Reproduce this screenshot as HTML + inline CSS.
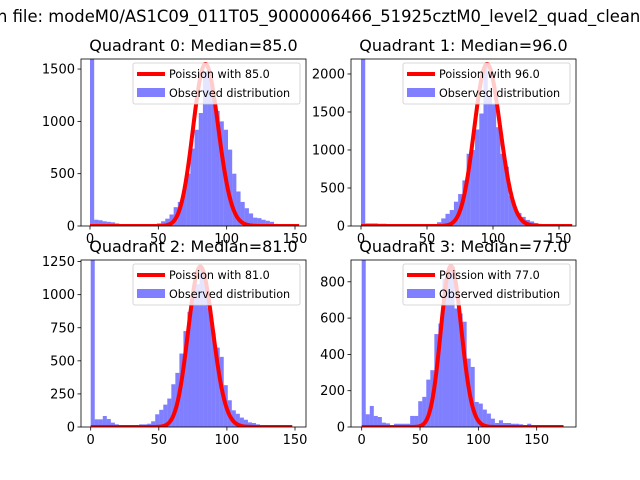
<!DOCTYPE html>
<html><head><meta charset="utf-8"><style>
html,body{margin:0;padding:0;background:#fff;}
svg{display:block;font-family:"DejaVu Sans","Liberation Sans",sans-serif;}
</style></head><body>
<svg id="fig" width="640" height="480" viewBox="0 0 640 480" xmlns="http://www.w3.org/2000/svg">
<rect width="640" height="480" fill="#fff"/>
<text x="-3" y="22" font-size="16.4" fill="#000">n file: modeM0/AS1C09_011T05_9000006466_51925cztM0_level2_quad_clean.evt</text>
</svg>
<script>
const titles = ["Quadrant 0: Median=85.0","Quadrant 1: Median=96.0","Quadrant 2: Median=81.0","Quadrant 3: Median=77.0"];
const lambdas = [85, 96, 81, 77];
const curvePeaks = [1548, 2131, 1212, 887];
const dataMax = [153, 160, 148, 173];
const yMaxes = [1596, 2197, 1262, 920];
const yTicks0 = [0, 500, 1000, 1500];
const yTicks1 = [0, 500, 1000, 1500, 2000];
const yTicks2 = [0, 250, 500, 750, 1000, 1250];
const yTicks3 = [0, 200, 400, 600, 800];
const xTicks01 = [0, 50, 100, 150];
const counts0 = [5000,60,55,45,40,35,25,10,5,5,5,5,5,5,10,15,25,45,70,110,180,230,340,500,740,920,1080,1480,1420,1280,1100,1000,920,730,500,330,230,170,120,80,75,60,50,40,20,10,5,5,5,5];
const counts1 = [5000,35,35,35,30,30,10,10,10,10,10,10,10,10,10,10,15,25,50,100,160,210,320,420,600,950,1000,1270,1480,2100,1700,1600,1300,950,780,400,230,170,120,80,60,40,20,15,10,5,5,5,5,5];
const counts2 = [5000,58,58,83,60,33,20,5,5,5,5,5,20,20,25,43,96,130,169,215,323,409,555,725,870,1010,1080,1212,1098,900,707,600,530,316,202,126,100,71,55,35,30,20,5,5,3,3,3,3,3,3];
const counts3 = [5000,70,116,61,55,24,20,10,18,18,18,18,61,61,142,166,261,313,512,570,819,856,883,653,626,580,377,331,138,129,96,74,46,22,37,22,22,18,18,15,10,18,10,5,5,3,3,3,3,3];
const allCounts = [counts0, counts1, counts2, counts3];
const allYTicks = [yTicks0, yTicks1, yTicks2, yTicks3];

const boxes = [
  {x0:81,x1:306,y0:59,y1:226, xt0:90, xt150:295},
  {x0:351,x1:576,y0:59,y1:226, xt0:361, xt150:559},
  {x0:81,x1:306,y0:260,y1:427, xt0:90.7, xt150:295},
  {x0:351,x1:576,y0:260,y1:427, xt0:361.7, xt150:536.7}
];
const NS = "http://www.w3.org/2000/svg";
const svg = document.getElementById('fig');
function mk(tag, attrs, parent){const e=document.createElementNS(NS,tag);for(const k in attrs)e.setAttribute(k,attrs[k]);(parent||svg).appendChild(e);return e;}
function lgamma(x){const c=[76.18009172947146,-86.50532032941677,24.01409824083091,-1.231739572450155,0.1208650973866179e-2,-0.5395239384953e-5];let y=x,t=x+5.5;t-=(x+0.5)*Math.log(t);let s=1.000000000190015;for(let j=0;j<6;j++)s+=c[j]/++y;return -t+Math.log(2.5066282746310005*s/x);}
function logpmf(k,l){return k*Math.log(l)-l-lgamma(k+1);}

for(let q=0;q<4;q++){
  const b=boxes[q], counts=allCounts[q], yt=allYTicks[q];
  const g=mk('g',{});
  
  
  const ppu=(b.xt150-b.xt0)/150;
  const xs=v=>b.xt0+v*ppu;
  const ys=v=>b.y1-v*(b.y1-b.y0)/yMaxes[q];
  const cid='clip'+q;
  const cp=mk('clipPath',{id:cid},g);
  mk('rect',{x:b.x0,y:b.y0,width:b.x1-b.x0,height:b.y1-b.y0},cp);
  const plot=mk('g',{'clip-path':'url(#'+cid+')'},g);
  // bars
  const bw=dataMax[q]/counts.length;
  counts.forEach((c,i)=>{
    const x0=xs(i*bw), x1=xs((i+1)*bw), y=ys(c);
    const r=mk('rect',{x:x0,y:y,width:x1-x0,height:b.y1-y,fill:'#0000ff','fill-opacity':0.5},plot);
    
    
  });
  // poisson curve
  const lam=lambdas[q];
  const peakLog=logpmf(Math.floor(lam),lam);
  let d='';
  for(let k=0;k<=dataMax[q];k++){
    const v=curvePeaks[q]*Math.exp(logpmf(k,lam)-peakLog);
    d+=(k?'L':'M')+xs(k).toFixed(2)+','+ys(v).toFixed(2);
  }
  const line=mk('path',{d:d,fill:'none',stroke:'#ff0000','stroke-width':4,'stroke-linejoin':'round'},plot);
  
  
  // spines
  const sp=mk('rect',{x:b.x0,y:b.y0,width:b.x1-b.x0,height:b.y1-b.y0,fill:'none',stroke:'#000','stroke-width':0.8},g);
  
  
  xTicks01.forEach(t=>{
    const X=xs(t);
    if(X>b.x1+1)return;
    mk('line',{x1:X,x2:X,y1:b.y1,y2:b.y1+3.5,stroke:'#000','stroke-width':0.8},g);
    const tx=mk('text',{x:X,y:b.y1+17,'font-size':13,'text-anchor':'middle',fill:'#000'},g);
    tx.textContent=t;
    
    
  });
  yt.forEach(t=>{
    const Y=ys(t);
    mk('line',{x1:b.x0-3.5,x2:b.x0,y1:Y,y2:Y,stroke:'#000','stroke-width':0.8},g);
    const tx=mk('text',{x:b.x0-6,y:Y+4.5,'font-size':13,'text-anchor':'end',fill:'#000'},g);
    tx.textContent=t;
    
    
  });
  const ti=mk('text',{x:(b.x0+b.x1)/2,y:b.y0-8,'font-size':16,'text-anchor':'middle',fill:'#000'},g);
  ti.textContent=titles[q];
  
  
  const lx=b.x0+52, ly=b.y0+4;
  const lg=mk('g',{},g);
  
  
  mk('rect',{x:lx,y:ly,width:167,height:41,rx:2,fill:'#fff','fill-opacity':0.8,stroke:'#ccc','stroke-width':0.8},lg);
  mk('line',{x1:lx+4,x2:lx+32,y1:ly+11,y2:ly+11,stroke:'#ff0000','stroke-width':4},lg);
  const t1=mk('text',{x:lx+36,y:ly+15,'font-size':11.2,fill:'#000'},lg);
  t1.textContent='Poission with '+lambdas[q].toFixed(1);
  
  
  mk('rect',{x:lx+4,y:ly+25,width:28,height:9,fill:'#0000ff','fill-opacity':0.5},lg);
  const t2=mk('text',{x:lx+36,y:ly+34,'font-size':11.2,fill:'#000'},lg);
  t2.textContent='Observed distribution';
  
  
}
</script>
</body></html>
